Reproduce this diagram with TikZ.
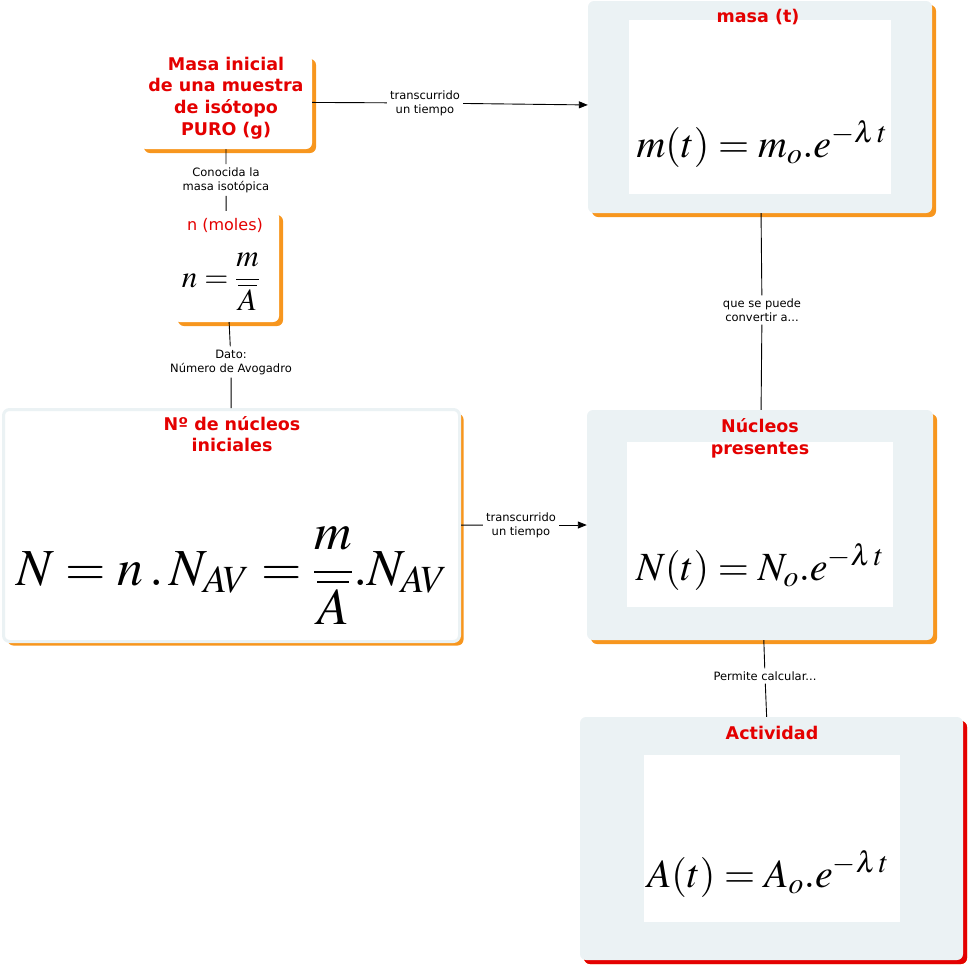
\documentclass[tikz,border=0pt]{standalone}
\usepackage{mathptmx}
\usepackage[no-math]{fontspec}
\usepackage{tikz}
\usetikzlibrary{arrows.meta,shadows}
\newfontfamily\mapfont{DejaVu Sans}
\definecolor{mapred}{RGB}{228,0,0}
\definecolor{maporange}{RGB}{247,150,30}
\definecolor{mapgrey}{RGB}{235,242,244}

\begin{document}
\begin{tikzpicture}[x=1pt, y=-1pt, >={Triangle[length=9pt,width=7pt]},
    concept/.style={rectangle, rounded corners=6pt, fill=white, inner sep=0pt,
      drop shadow={shadow xshift=4pt, shadow yshift=-4pt, fill=maporange, opacity=1}},
    greybox/.style={concept, fill=mapgrey},
    panel/.style={rectangle, fill=white, inner sep=0pt},
    title/.style={text=mapred, align=center, font={\mapfont\bfseries\fontsize{17.5}{21.7}\selectfont}},
    linklabel/.style={align=center, inner sep=3pt, font={\mapfont\fontsize{11.5}{14}\selectfont}},
    link/.style={line width=0.9pt},
    formula/.style={anchor=base, inner sep=0pt, font={\fontsize{40}{48}\selectfont}}]
    \useasboundingbox (0,0) rectangle (971,967);

    % boxes
    \node [concept, minimum width=172pt, minimum height=94pt] (masaini) at (226,102) {};
    \node [concept, minimum width=105pt, minimum height=111pt] (moles) at (226.5,266.5) {};
    \node [concept, draw=mapgrey, line width=3pt, minimum width=456pt, minimum height=232pt] (nucini) at (231.5,525.5) {};
    \node [greybox, minimum width=344pt, minimum height=212pt] (masat) at (760,107) {};
    \node [greybox, minimum width=346pt, minimum height=230pt] (nucpres) at (760,525) {};
    \node [greybox, minimum width=383pt, minimum height=243pt,
      drop shadow={shadow xshift=4pt, shadow yshift=-4pt, fill=mapred, opacity=1}] (activ) at (771.5,838.5) {};

    % white panels
    \node [panel, minimum width=262pt, minimum height=174pt] (masatpanel) at (760,107) {};
    \node [panel, minimum width=266pt, minimum height=165pt] (nucprespanel) at (760,524.5) {};
    \node [panel, minimum width=256pt, minimum height=167pt] (activpanel) at (772,838.5) {};

    % titles
    \node [title] (masainititle) at (226,98) {Masa inicial\\de una muestra\\de isótopo\\PURO (g)};
    \node [text=mapred, font={\mapfont\fontsize{16}{18}\selectfont}] (molestitle) at (225,225) {n (moles)};
    \node [title] (nucinititle) at (232,434) {Nº de núcleos\\iniciales};
    \node [title] (masattitle) at (758,17) {masa (t)};
    \node [title] (nucprestitle) at (760,438) {Núcleos\\presentes};
    \node [title] (activtitle) at (772,733) {Actividad};

    % formulas
    \node [formula, font={\fontsize{31}{36}\selectfont}] (molesform) at (221,287)
      {$\displaystyle n=\frac{m}{\overline{A}}$};
    \node [formula, font={\fontsize{52}{60}\selectfont}] (nuciniform) at (232,585)
      {$\displaystyle N=n\,.\,N_{AV}=\frac{m}{\overline{A}}.N_{AV}$};
    \node [formula] (masatform) at (762,157) {$m(t)=m_o.e^{-\lambda\mkern2mu t}$};
    \node [formula] (nucpresform) at (760,580) {$N(t)=N_o.e^{-\lambda\mkern2mu t}$};
    \node [formula] (activform) at (768,887) {$A(t)=A_o.e^{-\lambda\mkern2mu t}$};

    % link labels
    \node [linklabel] (lbltiempoa) at (425,103) {transcurrido\\un tiempo};
    \node [linklabel] (lblconocida) at (226,180) {Conocida la\\masa isotópica};
    \node [linklabel] (lbldato) at (231,362) {Dato:\\Número de Avogadro};
    \node [linklabel] (lbltiempob) at (521,525) {transcurrido\\un tiempo};
    \node [linklabel] (lblconvertir) at (762,310) {que se puede\\convertir a...};
    \node [linklabel] (lblpermite) at (765,676) {Permite calcular...};

    % connectors
    \draw [link] (masaini) -- (lbltiempoa);
    \draw [link, ->] (lbltiempoa) -- (masat);
    \draw [link] (masaini) -- (lblconocida) -- (moles);
    \draw [link] (moles) -- (lbldato) -- (nucini);
    \draw [link] (nucini) -- (lbltiempob);
    \draw [link, ->] (lbltiempob) -- (nucpres);
    \draw [link] (masat) -- (lblconvertir) -- (nucpres);
    \draw [link] (nucpres) -- (lblpermite) -- (activ);
\end{tikzpicture}
\end{document}
